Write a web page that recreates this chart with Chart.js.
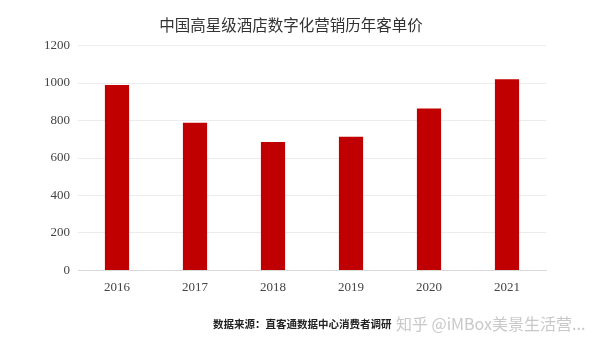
<!DOCTYPE html>
<html>
<head>
<meta charset="utf-8">
<script src="https://cdn.jsdelivr.net/npm/chart.js@4/dist/chart.umd.min.js"></script>
<style>
  html, body { margin: 0; padding: 0; background: #fff; }
  #wrap { position: relative; width: 604px; height: 347px; }
  #source {
    position: absolute; left: 213px; top: 316px;
    font: bold 10.5px "Noto Sans CJK SC", serif; color: #222;
  }
  #mark {
    position: absolute; left: 396px; top: 311px;
    font: 16px "Noto Sans CJK SC", sans-serif; color: rgba(190,190,190,0.85);
  }
</style>
</head>
<body>
<div id="wrap">
  <canvas id="displayGraph" width="604" height="347"></canvas>
  <div id="source">数据来源：直客通数据中心消费者调研</div>
  <div id="mark">知乎 @iMBox美景生活营...</div>
</div>
<script>
// années et客单价 (元)
const YEARS = ['2016', '2017', '2018', '2019', '2020', '2021']
const PRICES = [990, 788, 686, 713, 864, 1020]
const Y_TICKS = [0, 200, 400, 600, 800, 1000, 1200]

const SERIF = '"Liberation Serif", "DejaVu Serif", serif'

const config = {
  type: 'bar',
  data: {
    labels: YEARS,
    datasets: [{
      label: '客单价',
      data: PRICES,
      backgroundColor: '#c00000',
      categoryPercentage: 1,
      barPercentage: 0.31
    }]
  },
  options: {
    responsive: false,
    animation: false,
    layout: { padding: { left: 36, right: 58, top: 0, bottom: 43 } },
    plugins: {
      legend: { display: false },
      tooltip: { enabled: false },
      title: {
        display: true,
        text: '中国高星级酒店数字化营销历年客单价',
        color: '#333',
        font: { family: '"Noto Sans CJK SC", sans-serif', size: 15.5, weight: 'normal' },
        padding: { top: 16, bottom: 11 }
      }
    },
    scales: {
      x: {
        grid: { display: false, drawTicks: false },
        border: { color: '#d9d9d9' },
        ticks: { color: '#444', font: { family: SERIF, size: 13 }, padding: 9 }
      },
      y: {
        min: 0,
        max: 1200,
        afterBuildTicks: axis => { axis.ticks = Y_TICKS.map(v => ({ value: v })) },
        grid: { color: '#ececec', drawTicks: false },
        border: { display: false },
        ticks: {
          color: '#444',
          font: { family: SERIF, size: 13 },
          padding: 8,
          callback: v => String(v) // pas de séparateur de milliers
        }
      }
    }
  }
}

const DISPLAYGRAPH = document.getElementById('displayGraph')
const chart = new Chart(DISPLAYGRAPH, config)
</script>
</body>
</html>
